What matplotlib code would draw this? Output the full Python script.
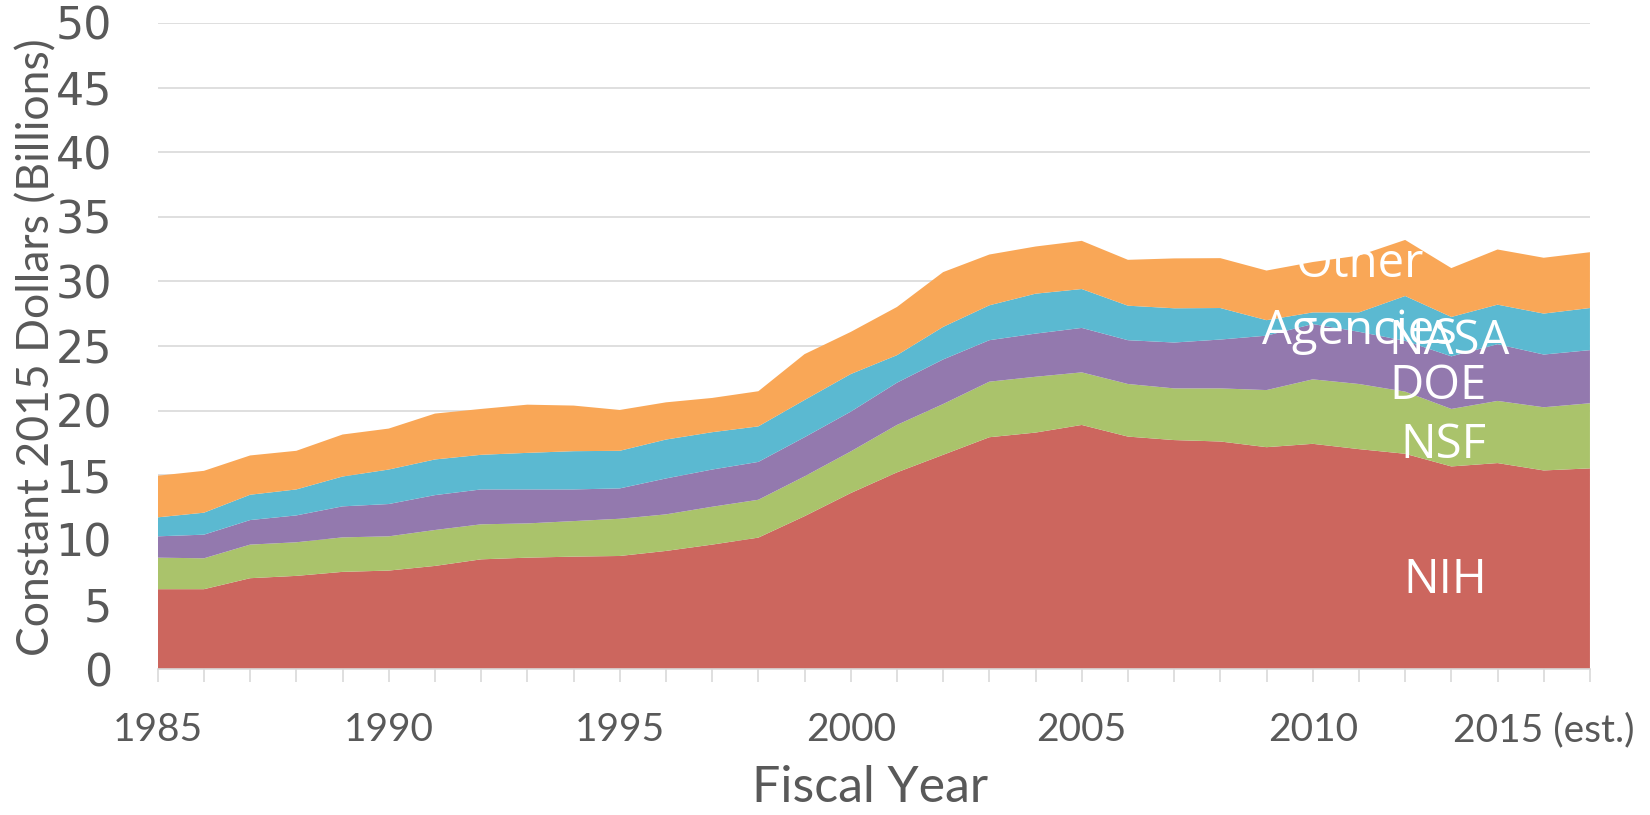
import matplotlib
matplotlib.use("Agg")
import matplotlib.pyplot as plt
import numpy as np

# Federal R&D funding by agency, constant 2015 dollars (billions)
years = list(range(1985, 2017))
nih = [6.18, 6.18, 7.03, 7.21, 7.52, 7.62, 7.98, 8.49, 8.62, 8.70, 8.75, 9.14, 9.63, 10.17,
       11.83, 13.62, 15.22, 16.58, 17.94, 18.30, 18.89, 17.99, 17.72, 17.61, 17.17, 17.43,
       17.02, 16.66, 15.68, 15.94, 15.37, 15.53]
nsf = [2.44, 2.39, 2.60, 2.60, 2.67, 2.65, 2.78, 2.71, 2.65, 2.75, 2.88, 2.83, 2.93, 2.93,
       3.08, 3.22, 3.67, 3.93, 4.30, 4.32, 4.07, 4.07, 4.00, 4.11, 4.42, 4.99,
       5.04, 4.81, 4.45, 4.81, 4.89, 5.04]
doe = [1.65, 1.83, 1.90, 2.08, 2.40, 2.50, 2.70, 2.70, 2.63, 2.45, 2.35, 2.78, 2.88, 2.93,
       3.03, 3.08, 3.27, 3.45, 3.21, 3.34, 3.44, 3.39, 3.55, 3.78, 4.21, 4.28,
       4.04, 3.93, 4.07, 4.39, 4.08, 4.11]
nasa = [1.47, 1.70, 1.96, 2.01, 2.31, 2.67, 2.76, 2.68, 2.83, 2.96, 2.91, 3.01, 2.89, 2.75,
        2.88, 2.91, 2.13, 2.52, 2.70, 3.09, 3.01, 2.67, 2.65, 2.44, 1.20, 0.90,
        1.50, 3.47, 3.05, 3.06, 3.17, 3.26]
other = [3.22, 3.24, 3.04, 2.99, 3.25, 3.17, 3.55, 3.55, 3.73, 3.53, 3.16, 2.88, 2.65, 2.72,
         3.55, 3.26, 3.73, 4.24, 3.93, 3.65, 3.73, 3.55, 3.86, 3.86, 3.84, 3.90,
         4.40, 4.34, 3.78, 4.27, 4.32, 4.32]

tick_years = [1985, 1990, 1995, 2000, 2005, 2010, 2015]
tick_labels = ["1985", "1990", "1995", "2000", "2005", "2010", "2015 (est.)"]

colors = ["#CC665E", "#AAC36B", "#9379AE", "#5BB9D1", "#F9A757"]
text_grey = "#595959"
line_grey = "#D9D9D9"

fig = plt.figure(figsize=(16.5, 8.15), dpi=100)
ax = fig.add_axes([0.0956, 0.1791, 0.868, 0.7927])

ax.stackplot(years, nih, nsf, doe, nasa, other, colors=colors, linewidth=0)

ax.set_xlim(1985, 2016)
ax.set_ylim(0, 50)

# horizontal gridlines behind the areas
ax.set_yticks(np.arange(0, 51, 5))
ax.grid(axis="y", color=line_grey, linewidth=1.2)
ax.set_axisbelow(True)

for side in ["left", "right", "top"]:
    ax.spines[side].set_visible(False)
ax.spines["bottom"].set_color(line_grey)
ax.spines["bottom"].set_linewidth(1.2)
ax.spines["bottom"].set_zorder(5)

ax.set_xticks(tick_years)
ax.set_xticklabels(tick_labels, fontfamily="Lato", fontsize=28, color=text_grey)
ax.set_xticks(years, minor=True)
ax.tick_params(axis="x", which="both", direction="out", length=9, width=1.2,
               color=line_grey, pad=22)
ax.tick_params(axis="y", length=0, pad=33, labelsize=32, labelcolor=text_grey)
for lab in ax.get_yticklabels():
    lab.set_fontfamily("DejaVu Sans")

fig.text(0.0222, 0.574, "Constant 2015 Dollars (Billions)", rotation=90,
         ha="center", va="center", fontfamily="Lato", fontsize=32, color=text_grey)
fig.text(870 / 1650, 0.005, "Fiscal Year", ha="center", va="bottom",
         fontfamily="Lato", fontsize=36, color=text_grey)

# white labels drawn inside the areas
label_font = {"fontfamily": "Open Sans", "fontsize": 34, "color": "white"}
ax.text(2011.0, 30.33, "Other", ha="center", va="baseline", **label_font)
ax.text(2011.0, 25.19, "Agencies", ha="center", va="baseline", **label_font)
ax.text(2012.94, 24.42, "NASA", ha="center", va="baseline", **label_font)
ax.text(2012.72, 20.87, "DOE", ha="center", va="baseline", **label_font)
ax.text(2012.83, 16.37, "NSF", ha="center", va="baseline", **label_font)
ax.text(2012.86, 5.91, "NIH", ha="center", va="baseline", **label_font)

fig.savefig("out.png", dpi=100)
